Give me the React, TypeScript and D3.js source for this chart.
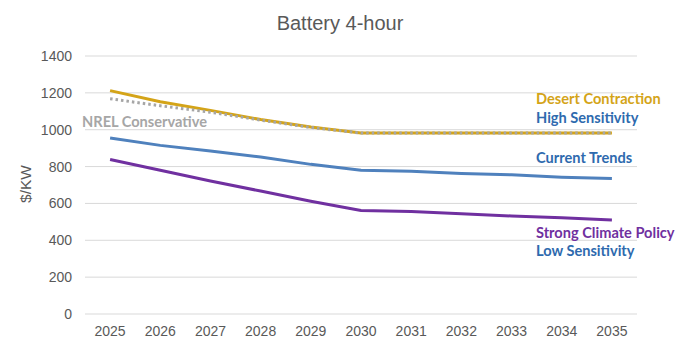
import React from "react";
import * as d3 from "d3";

const years = ["2025","2026","2027","2028","2029","2030","2031","2032","2033","2034","2035"];
const desertContraction = [1212,1152,1105,1055,1015,982,982,982,982,982,982];
const nrelConservative = [1168,1130,1095,1052,1012,982,982,982,982,982,982];
const currentTrends = [955,915,885,852,812,780,775,763,755,742,735];
const strongClimate = [838,780,722,667,612,562,556,544,532,522,510];
const yTicks = [0,200,400,600,800,1000,1200,1400];

const W = 680, H = 346;
const left = 85, right = 637, top = 56, bottom = 314;

export default function App() {
  const x = d3.scaleBand().domain(years).range([left, right]);
  const y = d3.scaleLinear().domain([0, 1400]).range([bottom, top]);
  const cx = (d: string) => (x(d) as number) + x.bandwidth() / 2;
  const line = d3.line<number>().x((_, i) => cx(years[i])).y(v => y(v));
  const tickFont = "Arial, 'Liberation Sans', sans-serif";
  const lblFont = "Lato, 'Open Sans', sans-serif";
  const lblSize = 14.6;
  return (
    <svg width={W} height={H} style={{ position: "absolute", left: 0, top: 0, background: "#fff" }}>
      <text x={340} y={30} textAnchor="middle" fontFamily={tickFont} fontSize={20} fill="#595959">Battery 4-hour</text>
      {yTicks.map(t => (
        <g key={t}>
          <line x1={left} x2={right} y1={y(t)} y2={y(t)} stroke="#d9d9d9" strokeWidth={1} />
          <text x={72} y={y(t) + 5} textAnchor="end" fontFamily={tickFont} fontSize={14} fill="#595959">{t}</text>
        </g>
      ))}
      {years.map(yr => (
        <text key={yr} x={cx(yr)} y={336} textAnchor="middle" fontFamily={tickFont} fontSize={14} fill="#595959">{yr}</text>
      ))}
      <text transform={`translate(31,184) rotate(-90)`} textAnchor="middle" fontFamily={tickFont} fontSize={15.5} fill="#595959">$/KW</text>
      <path d={line(strongClimate) || ""} fill="none" stroke="#7030A0" strokeWidth={3} />
      <path d={line(currentTrends) || ""} fill="none" stroke="#4F81BD" strokeWidth={3} />
      <path d={line(desertContraction) || ""} fill="none" stroke="#D4A418" strokeWidth={3} />
      <path d={line(nrelConservative) || ""} fill="none" stroke="#A6A6A6" strokeWidth={3} strokeDasharray="2.5 3" />
      <text x={82} y={127} fontFamily={lblFont} fontWeight={700} fontSize={lblSize} fill="#A6A6A6">NREL Conservative</text>
      <text x={536} y={104} fontFamily={lblFont} fontWeight={700} fontSize={lblSize} fill="#D4A418">Desert Contraction</text>
      <text x={536} y={123} fontFamily={lblFont} fontWeight={700} fontSize={lblSize} fill="#2E6AAE">High Sensitivity</text>
      <text x={536} y={163} fontFamily={lblFont} fontWeight={700} fontSize={lblSize} fill="#2E6AAE">Current Trends</text>
      <text x={536} y={238} fontFamily={lblFont} fontWeight={700} fontSize={lblSize} fill="#7030A0">Strong Climate Policy</text>
      <text x={536} y={256} fontFamily={lblFont} fontWeight={700} fontSize={lblSize} fill="#2E6AAE">Low Sensitivity</text>
    </svg>
  );
}
